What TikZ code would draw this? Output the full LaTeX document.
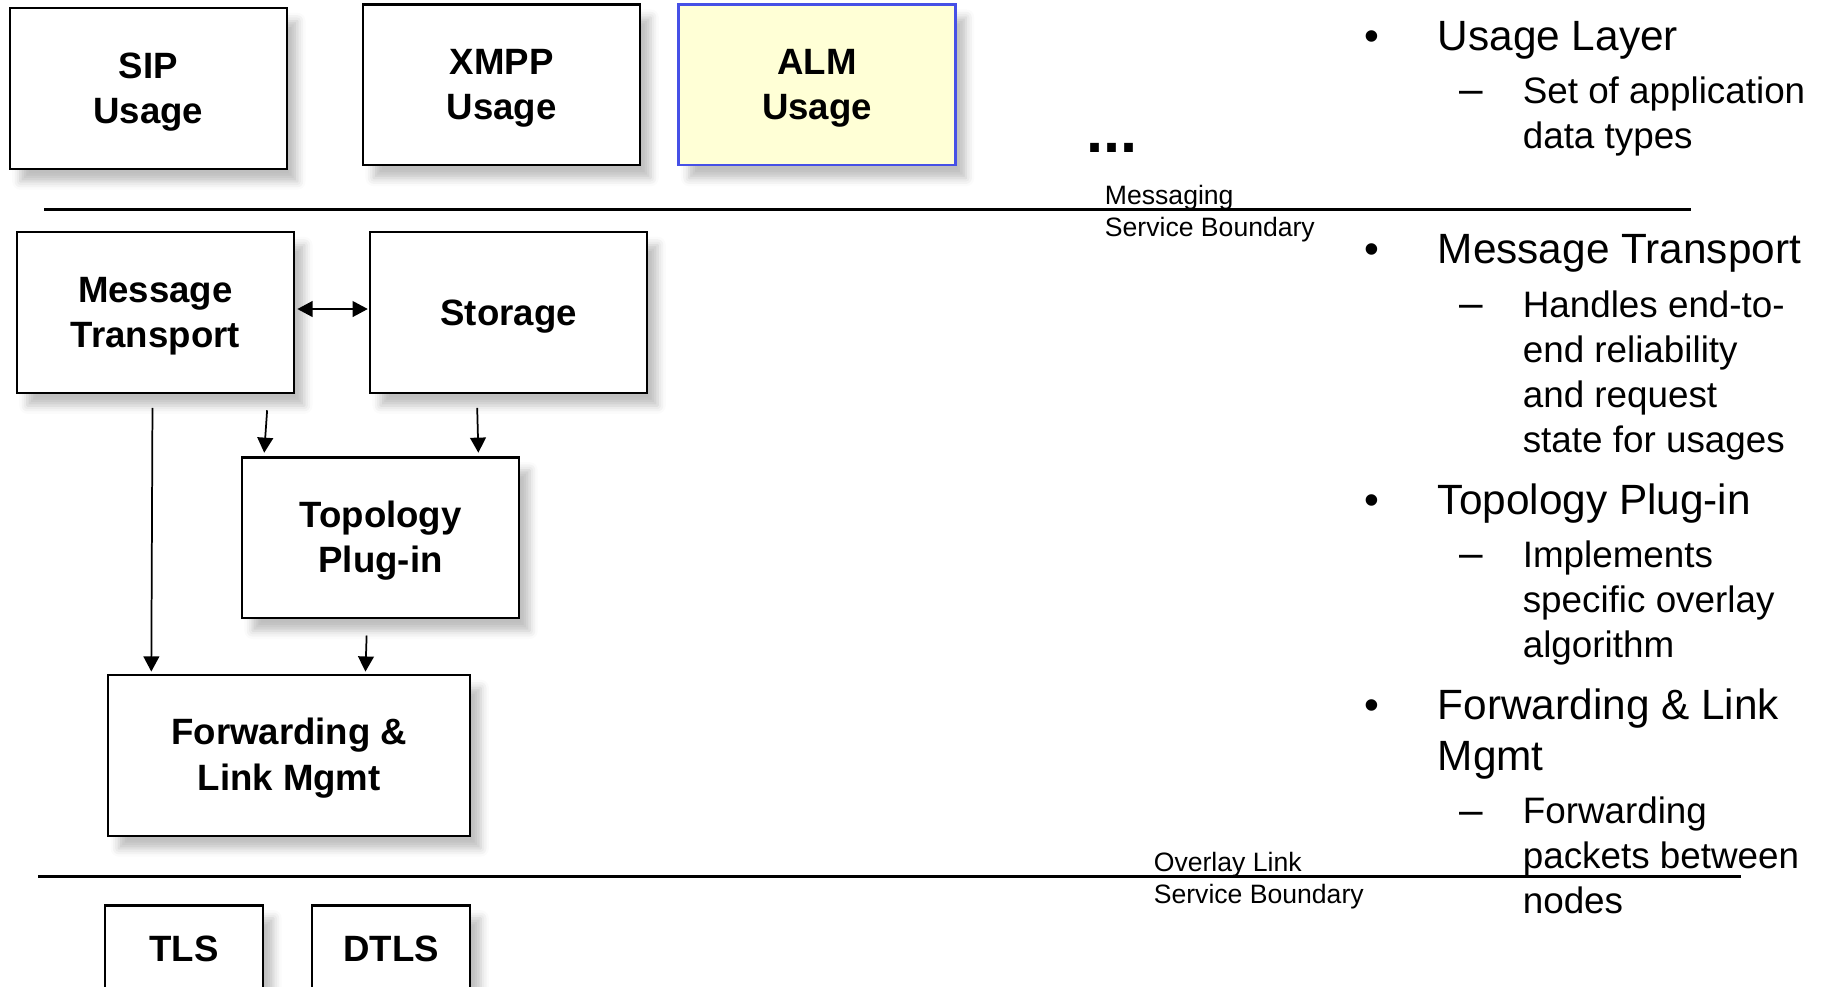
\documentclass[tikz,border=0pt]{standalone}
\usepackage{fontspec}
\setmainfont{Liberation Sans}
\usetikzlibrary{calc,arrows.meta,shadows.blur}

\definecolor{almfill}{RGB}{255,255,214}
\definecolor{almline}{RGB}{70,80,230}
\newcommand\boxlift{\rule{0pt}{15.8pt}}

\tikzset{
  box/.style={draw, line width=0.4mm, fill=white, minimum width=47.6mm, minimum height=27.6mm,
    align=center, inner sep=0pt, font=\fontsize{17.9}{22.2}\selectfont\bfseries,
    blur shadow={shadow xshift=1.8mm, shadow yshift=-2.2mm, shadow blur radius=1.4mm, shadow opacity=25}},
  link/.style={line width=0.3mm, >={Triangle[length=2.6mm,width=2.7mm]}},
  boundary/.style={line width=0.4mm},
  bnote/.style={font=\fontsize{13}{15.9}\selectfont, align=left, anchor=west, inner sep=0pt},
  head/.style={font=\fontsize{20.7}{25}\selectfont, align=left, anchor=base west, inner sep=0pt},
  sub/.style={font=\fontsize{18}{22}\selectfont, align=left, anchor=base west, inner sep=0pt},
  bul/.style={font=\fontsize{20.7}{25}\selectfont, anchor=base, inner sep=0pt},
}

\begin{document}
\begin{tikzpicture}[x=0.2mm, y=-0.2mm]
\useasboundingbox (0,0) rectangle (1568,848);
\clip (0,0) rectangle (1568,848);
% usage layer
\node[box] (sip) at (127.5,76) {\boxlift SIP\\Usage};
\node[box] (xmpp) at (431,73) {\boxlift XMPP\\Usage};
\node[box, fill=almfill, draw=almline] (alm) at (702,73) {\boxlift ALM\\Usage};
\node[font=\fontsize{30}{30}\selectfont\bfseries, anchor=base west, inner sep=0pt] (more) at (933,131) {...};
% messaging service boundary
\draw[boundary] (38,180) -- (1453,180);
\node[bnote] (msgb) at (949,183.5) {Messaging\\Service Boundary};
\node[box] (mt) at (133.5,268.5) {\boxlift Message\\Transport};
\node[box] (stor) at (437,268.5) {\rule{0pt}{16.5pt}Storage};
\node[box] (topo) at (327,462) {\boxlift Topology\\Plug-in};
\node[box, minimum width=62.2mm] (fwd) at (248.5,649) {\boxlift Forwarding \&\\Link Mgmt};
% overlay link service boundary
\draw[boundary] (33,753) -- (1496,753);
\node[bnote] (olb) at (991,756.5) {Overlay Link\\Service Boundary};
\node[box, minimum width=27.2mm, minimum height=14.8mm] (tls) at (158,815) {TLS};
\node[box, minimum width=27.2mm, minimum height=14.8mm] (dtls) at (336,815) {DTLS};
% arrows
\draw[link, <->] ($(mt.east)+(2,-3)$) -- ($(stor.west)+(-1,-3)$);
\draw[link, ->] ($(mt.south)+(-2.5,12)$) -- ($(fwd.north west)+(38,-2)$);
\draw[link, ->] ($(mt.south east)+(-24,14)$) -- ($(topo.north west)+(20,-3)$);
\draw[link, ->] ($(stor.south west)+(93,12)$) -- ($(topo.north east)+(-36,-3)$);
\draw[link, ->] ($(topo.south)+(-12,14)$) -- ($(fwd.north)+(65.5,-2)$);
% bullet text
\node[bul] at (1179,43) {•};
\node[head] (h1) at (1235,43) {Usage Layer};
\node[bul] at (1264,89) {–};
\node[sub] (s1) at (1308,128) {Set of application\\data types};
\node[bul] at (1179,226) {•};
\node[head] (h2) at (1235,226) {Message Transport};
\node[bul] at (1264,273) {–};
\node[sub] (s2) at (1308,389) {Handles end-to-\\end reliability\\and request\\state for usages};
\node[bul] at (1179,442) {•};
\node[head] (h3) at (1235,442) {Topology Plug-in};
\node[bul] at (1264,488) {–};
\node[sub] (s3) at (1308,565) {Implements\\specific overlay\\algorithm};
\node[bul] at (1179,618) {•};
\node[head] (h4) at (1235,662) {Forwarding \& Link\\Mgmt};
\node[bul] at (1264,708) {–};
\node[sub] (s4) at (1308,785) {Forwarding\\packets between\\nodes};
\end{tikzpicture}
\end{document}
